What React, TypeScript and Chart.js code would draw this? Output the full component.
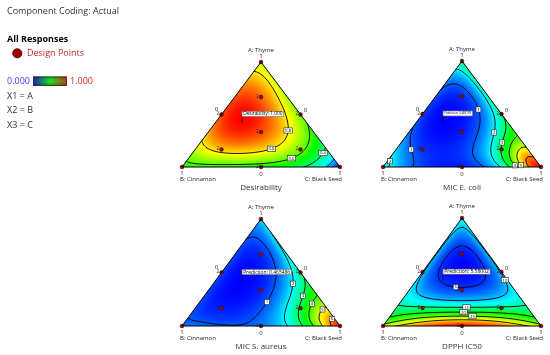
import React, { useEffect, useRef } from "react";
import { Chart, registerables } from "chart.js";
Chart.register(...registerables);

type Bary = [number, number, number];
type LabelAnchor = [number, number, number, number]; // level, a, b, c

// ---------------- data ----------------
// Simplex lattice (A, B, C) at which surface values were read from the picture
const LATTICE: Bary[] = [
  [1, 0, 0],
  [0.75, 0.25, 0], [0.75, 0, 0.25],
  [0.5, 0.5, 0], [0.5, 0.25, 0.25], [0.5, 0, 0.5],
  [0.25, 0.75, 0], [0.25, 0.5, 0.25], [0.25, 0.25, 0.5], [0.25, 0, 0.75],
  [0, 1, 0], [0, 0.75, 0.25], [0, 0.5, 0.5], [0, 0.25, 0.75], [0, 0, 1],
];

const DESIRABILITY_VALUES = [0.72, 0.92, 0.72, 0.96, 0.99, 0.64, 0.8, 0.95, 0.82, 0.48, 0.55, 0.55, 0.53, 0.42, 0.0];
const MIC_ECOLI_VALUES = [2.9, 1.05, 2.6, 0.85, 0.5, 2.9, 1.4, 0.5, 1.3, 4.4, 2.2, 0.75, 0.55, 2.1, 6.8];
const MIC_SAUREUS_VALUES = [1.8, 0.95, 2.15, 0.9, 0.6, 2.8, 0.9, 0.55, 1.5, 4.3, 1.15, 1.05, 1.2, 2.8, 6.8];
const DPPH_IC50_VALUES = [12, 10.8, 10.8, 10.8, 3.3, 10.8, 13.5, 9.5, 9.5, 13.5, 27, 35, 38, 35, 27];

const DESIRABILITY_LEVELS = [0.2, 0.4, 0.6, 0.8];
const MIC_ECOLI_LEVELS = [1, 2, 3, 4, 5, 6];
const MIC_SAUREUS_LEVELS = [1, 2, 3, 4, 5, 6];
const DPPH_IC50_LEVELS = [5, 10, 15, 20, 25, 30];

const DESIRABILITY_LABELS: LabelAnchor[] = [
  [0.8, 0.347, 0.163, 0.49], [0.8, 0.091, 0.37, 0.54], [0.6, 0.044, 0.277, 0.679], [0.4, 0.088, 0.019, 0.893],
];
const MIC_ECOLI_LABELS: LabelAnchor[] = [
  [1, 0.169, 0.716, 0.115], [2, 0.094, 0.869, 0.037], [1, 0.559, 0.079, 0.362], [2, 0.303, 0.071, 0.626],
  [3, 0.188, 0.049, 0.763], [4, 0.115, 0.018, 0.867], [5, 0.062, 0.0, 0.938],
];
const MIC_SAUREUS_LABELS: LabelAnchor[] = [
  [1, 0.25, 0.368, 0.382], [2, 0.4, 0.137, 0.463], [3, 0.283, 0.1, 0.617], [4, 0.196, 0.066, 0.738],
  [5, 0.124, 0.033, 0.843], [6, 0.072, 0.0, 0.928],
];
const DPPH_IC50_LABELS: LabelAnchor[] = [
  [5, 0.427, 0.323, 0.25], [10, 0.396, 0.081, 0.523], [15, 0.179, 0.383, 0.438], [20, 0.111, 0.434, 0.455],
  [25, 0.065, 0.404, 0.531],
];

const DESIGN_POINTS: Bary[] = [
  [1, 0, 0], [0, 1, 0], [0, 0, 1],
  [0.5, 0.5, 0], [0.5, 0, 0.5], [0, 0.5, 0.5],
  [2 / 3, 1 / 6, 1 / 6], [1 / 6, 2 / 3, 1 / 6], [1 / 6, 1 / 6, 2 / 3], [1 / 3, 1 / 3, 1 / 3],
];
const REPLICATE_LABELS = ["", "", "", "2", "2", "2", "2", "2", "2", "2"];

const OPTIMUM: Bary = [0.42, 0.41, 0.17];

const COMPONENT_NAMES = ["A: Thyme", "B: Cinnamon", "C: Black Seed"];
const TITLES = ["Desirability", "MIC E. coli", "MIC S. aureus", "DPPH IC50"];
const FLAG_TEXTS = ["Desirability: 1.000", "Prediction: 0.482159", "Prediction: 0.465486", "Prediction: 5.58002"];
const LEGEND_TEXTS = ["Component Coding: Actual", "All Responses", "Design Points", "0.000", "1.000", "X1 = A", "X2 = B", "X3 = C"];

// ---------------- layout (not data) ----------------
const W = 550, H = 355;
const PANEL_BOXES = [
  { left: 182, right: 340, top: 62, bottom: 167 },
  { left: 383, right: 541, top: 61, bottom: 167 },
  { left: 182, right: 340, top: 219, bottom: 326 },
  { left: 383, right: 541, top: 218, bottom: 326 },
];
const FLAG_WIDTHS = [41.6, 29.4, 49.3, 47];
const FONT = '"Open Sans", "Noto Sans", sans-serif';

const PANELS = [
  { values: DESIRABILITY_VALUES, log: false, levels: DESIRABILITY_LEVELS, labels: DESIRABILITY_LABELS, dec: 1 },
  { values: MIC_ECOLI_VALUES, log: true, levels: MIC_ECOLI_LEVELS, labels: MIC_ECOLI_LABELS, dec: 0 },
  { values: MIC_SAUREUS_VALUES, log: true, levels: MIC_SAUREUS_LEVELS, labels: MIC_SAUREUS_LABELS, dec: 0 },
  { values: DPPH_IC50_VALUES, log: true, levels: DPPH_IC50_LEVELS, labels: DPPH_IC50_LABELS, dec: 0 },
];

// ---------------- model fitting ----------------
function basis(a: number, c: number): number[] {
  const out: number[] = [];
  for (let i = 0; i <= 4; i++) for (let j = 0; j <= 4 - i; j++) out.push(Math.pow(a, i) * Math.pow(c, j));
  return out;
}
function solveLinear(M: number[][], y: number[]): number[] {
  const n = y.length;
  const A = M.map((row, i) => [...row, y[i]]);
  for (let col = 0; col < n; col++) {
    let piv = col;
    for (let r = col + 1; r < n; r++) if (Math.abs(A[r][col]) > Math.abs(A[piv][col])) piv = r;
    const tmp = A[col]; A[col] = A[piv]; A[piv] = tmp;
    for (let r = 0; r < n; r++) {
      if (r === col) continue;
      const f = A[r][col] / A[col][col];
      if (f === 0) continue;
      for (let k = col; k <= n; k++) A[r][k] -= f * A[col][k];
    }
  }
  return A.map((row, i) => row[n] / row[i]);
}
function fitSurface(values: number[], log: boolean) {
  const M = LATTICE.map(([a, , c]) => basis(a, c));
  const y = values.map((v) => (log ? Math.log(v) : v));
  const coef = solveLinear(M, y);
  return (a: number, c: number) => {
    const bs = basis(a, c);
    let s = 0;
    for (let k = 0; k < bs.length; k++) s += coef[k] * bs[k];
    return log ? Math.exp(s) : s;
  };
}

function colormap(t: number): [number, number, number] {
  t = Math.max(0, Math.min(1, t));
  const stops = [[0, 0, 255], [0, 255, 255], [0, 255, 0], [255, 255, 0], [255, 0, 0]];
  const s = t * 4;
  const i = Math.min(3, Math.floor(s));
  const f = s - i;
  const c0 = stops[i], c1 = stops[i + 1];
  return [c0[0] + (c1[0] - c0[0]) * f, c0[1] + (c1[1] - c0[1]) * f, c0[2] + (c1[2] - c0[2]) * f];
}

const toXY = ([a, , c]: Bary) => ({ x: c + a / 2, y: a });

function drawLegend(ctx: CanvasRenderingContext2D) {
  ctx.save();
  ctx.textAlign = "left";
  ctx.textBaseline = "middle";
  ctx.font = `9px ${FONT}`;
  ctx.fillStyle = "#333";
  ctx.fillText(LEGEND_TEXTS[0], 7, 11.5);
  ctx.font = `bold 9px ${FONT}`;
  ctx.fillStyle = "#000";
  ctx.fillText(LEGEND_TEXTS[1], 7, 39.5);
  ctx.beginPath();
  ctx.arc(17.3, 53.3, 4.6, 0, Math.PI * 2);
  ctx.fillStyle = "#a00000";
  ctx.fill();
  ctx.lineWidth = 0.8;
  ctx.strokeStyle = "#4a0000";
  ctx.stroke();
  ctx.font = `9px ${FONT}`;
  ctx.fillStyle = "#c8282d";
  ctx.fillText(LEGEND_TEXTS[2], 27, 53.5);
  ctx.fillStyle = "#3b3bff";
  ctx.fillText(LEGEND_TEXTS[3], 7, 81.5);
  const bx = 33, by = 76.5, bw = 34, bh = 9.5;
  const g = ctx.createLinearGradient(bx, 0, bx + bw, 0);
  g.addColorStop(0, "#0000c0");
  g.addColorStop(0.5, "#00e000");
  g.addColorStop(1, "#c81e00");
  ctx.fillStyle = g;
  ctx.fillRect(bx, by, bw, bh);
  const gv = ctx.createLinearGradient(0, by, 0, by + bh);
  gv.addColorStop(0, "rgba(0,0,0,0.25)");
  gv.addColorStop(0.45, "rgba(255,255,255,0.1)");
  gv.addColorStop(1, "rgba(0,0,0,0.35)");
  ctx.fillStyle = gv;
  ctx.fillRect(bx, by, bw, bh);
  ctx.lineWidth = 0.7;
  ctx.strokeStyle = "#333";
  ctx.strokeRect(bx + 0.5, by + 0.5, bw - 1, bh - 1);
  ctx.fillStyle = "#e02424";
  ctx.fillText(LEGEND_TEXTS[4], 70, 81.5);
  ctx.fillStyle = "#333";
  ctx.fillText(LEGEND_TEXTS[5], 7, 96);
  ctx.fillText(LEGEND_TEXTS[6], 7, 110.7);
  ctx.fillText(LEGEND_TEXTS[7], 7, 125.3);
  ctx.restore();
}

function makePlugin(k: number) {
  const panel = PANELS[k];
  const surface = fitSurface(panel.values, panel.log);
  let segsByLevel: number[][][] = [];
  return {
    id: "ternary" + k,
    beforeDatasetsDraw(chart: any) {
      const { ctx, scales } = chart;
      const xs = scales.x, ys = scales.y;
      const pix = (b: Bary) => { const p = toXY(b); return [xs.getPixelForValue(p.x), ys.getPixelForValue(p.y)]; };
      const A = pix([1, 0, 0]), B = pix([0, 1, 0]), C = pix([0, 0, 1]);
      const L = Math.floor(B[0]) - 2, R = Math.ceil(C[0]) + 2, T = Math.floor(A[1]) - 2, Bt = Math.ceil(B[1]) + 2;
      const gw = R - L + 1, gh = Bt - T + 1;
      const grid = new Float64Array(gw * gh);
      let vmin = Infinity, vmax = -Infinity;
      for (let j = 0; j < gh; j++) {
        for (let i = 0; i < gw; i++) {
          const a = ys.getValueForPixel(T + j);
          const c = xs.getValueForPixel(L + i) - a / 2;
          const b = 1 - a - c;
          const v = surface(a, c);
          grid[j * gw + i] = v;
          if (a >= -1e-6 && b >= -1e-6 && c >= -1e-6) { if (v < vmin) vmin = v; if (v > vmax) vmax = v; }
        }
      }
      const off = document.createElement("canvas");
      off.width = gw - 1; off.height = gh - 1;
      const octx = off.getContext("2d")!;
      const img = octx.createImageData(gw - 1, gh - 1);
      for (let j = 0; j < gh - 1; j++) {
        for (let i = 0; i < gw - 1; i++) {
          const v = (grid[j * gw + i] + grid[j * gw + i + 1] + grid[(j + 1) * gw + i] + grid[(j + 1) * gw + i + 1]) / 4;
          const [r, g, bb] = colormap((v - vmin) / (vmax - vmin));
          const o = (j * (gw - 1) + i) * 4;
          img.data[o] = r; img.data[o + 1] = g; img.data[o + 2] = bb; img.data[o + 3] = 255;
        }
      }
      octx.putImageData(img, 0, 0);
      ctx.save();
      ctx.beginPath();
      ctx.moveTo(A[0], A[1]); ctx.lineTo(B[0], B[1]); ctx.lineTo(C[0], C[1]); ctx.closePath();
      ctx.clip();
      ctx.drawImage(off, L, T);
      // contours (marching squares)
      segsByLevel = [];
      ctx.strokeStyle = "#000";
      ctx.lineWidth = 0.9;
      for (const lv of panel.levels) {
        const segs: number[][] = [];
        for (let j = 0; j < gh - 1; j++) {
          for (let i = 0; i < gw - 1; i++) {
            const x0 = L + i, y0 = T + j;
            const v00 = grid[j * gw + i], v10 = grid[j * gw + i + 1], v11 = grid[(j + 1) * gw + i + 1], v01 = grid[(j + 1) * gw + i];
            const cr: number[][] = [];
            const edge = (va: number, vb: number, xa: number, ya: number, xb: number, yb: number) => {
              if ((va > lv) !== (vb > lv)) { const t = (lv - va) / (vb - va); cr.push([xa + (xb - xa) * t, ya + (yb - ya) * t]); }
            };
            edge(v00, v10, x0, y0, x0 + 1, y0);
            edge(v10, v11, x0 + 1, y0, x0 + 1, y0 + 1);
            edge(v11, v01, x0 + 1, y0 + 1, x0, y0 + 1);
            edge(v01, v00, x0, y0 + 1, x0, y0);
            if (cr.length === 2) segs.push([cr[0][0], cr[0][1], cr[1][0], cr[1][1]]);
            else if (cr.length === 4) { segs.push([cr[0][0], cr[0][1], cr[1][0], cr[1][1]]); segs.push([cr[2][0], cr[2][1], cr[3][0], cr[3][1]]); }
          }
        }
        segsByLevel.push(segs);
        ctx.beginPath();
        for (const s of segs) { ctx.moveTo(s[0], s[1]); ctx.lineTo(s[2], s[3]); }
        ctx.stroke();
      }
      ctx.restore();
    },
    afterDatasetsDraw(chart: any) {
      const { ctx, scales } = chart;
      const xs = scales.x, ys = scales.y;
      const pix = (b: Bary) => { const p = toXY(b); return [xs.getPixelForValue(p.x), ys.getPixelForValue(p.y)]; };
      const A = pix([1, 0, 0]), B = pix([0, 1, 0]), C = pix([0, 0, 1]);
      const inside = (x: number, y: number) => {
        const a = ys.getValueForPixel(y); const c = xs.getValueForPixel(x) - a / 2; const b = 1 - a - c;
        return a > 0.015 && b > 0.015 && c > 0.015;
      };
      ctx.save();
      // contour labels
      panel.labels.forEach(([lv, a, b, c]) => {
        const li = panel.levels.indexOf(lv);
        const segs = segsByLevel[li] || [];
        const [ax, ay] = pix([a, b, c]);
        let best: number[] | null = null, bd = Infinity;
        for (const s of segs) {
          const mx = (s[0] + s[2]) / 2, my = (s[1] + s[3]) / 2;
          if (!inside(mx, my)) continue;
          const d = (mx - ax) ** 2 + (my - ay) ** 2;
          if (d < bd) { bd = d; best = [mx, my]; }
        }
        if (!best || bd > 400) return;
        const txt = lv.toFixed(panel.dec);
        ctx.font = `4.3px ${FONT}`;
        const tw = ctx.measureText(txt).width;
        const bw = tw + 2.4, bh = 5.2;
        ctx.fillStyle = "#fff";
        ctx.fillRect(best[0] - bw / 2, best[1] - bh / 2, bw, bh);
        ctx.lineWidth = 0.6;
        ctx.strokeStyle = "#222";
        ctx.strokeRect(best[0] - bw / 2, best[1] - bh / 2, bw, bh);
        ctx.fillStyle = "#000";
        ctx.textAlign = "center";
        ctx.textBaseline = "middle";
        ctx.fillText(txt, best[0], best[1] + 0.2);
      });
      // replicate labels
      ctx.font = `4.6px ${FONT}`;
      ctx.fillStyle = "#222";
      ctx.textAlign = "right";
      ctx.textBaseline = "middle";
      DESIGN_POINTS.forEach((p, i) => {
        if (!REPLICATE_LABELS[i]) return;
        const [x, y] = pix(p);
        ctx.fillText(REPLICATE_LABELS[i], x - 2.3, y - 0.6);
      });
      // flag
      const [fx, fy] = pix(OPTIMUM);
      const txt = FLAG_TEXTS[k];
      ctx.font = `10px ${FONT}`;
      const m = ctx.measureText(txt).width;
      const fs = (10 * (FLAG_WIDTHS[k] - 2.2)) / m;
      ctx.font = `${fs}px ${FONT}`;
      const bh = 5, bb = fy - 6.5;
      ctx.lineWidth = 0.6;
      ctx.strokeStyle = "#000";
      ctx.beginPath(); ctx.moveTo(fx, fy); ctx.lineTo(fx, bb); ctx.stroke();
      ctx.fillStyle = "#fff";
      ctx.fillRect(fx, bb - bh, FLAG_WIDTHS[k], bh);
      ctx.strokeStyle = "#777";
      ctx.strokeRect(fx, bb - bh, FLAG_WIDTHS[k], bh);
      ctx.fillStyle = "#000";
      ctx.textAlign = "left";
      ctx.fillText(txt, fx + 1.1, bb - bh / 2 + 0.2);
      // axis texts
      const mid = A[0];
      ctx.fillStyle = "#222";
      ctx.font = `6px ${FONT}`;
      ctx.textAlign = "center";
      ctx.fillText(COMPONENT_NAMES[0], mid, A[1] - 11.5);
      ctx.fillText("1", mid, A[1] - 5.5);
      ctx.fillText("1", B[0], B[1] + 6.5);
      ctx.fillText("0", mid, B[1] + 7);
      ctx.fillText("1", C[0], C[1] + 6.5);
      const lm = pix([0.5, 0.5, 0]), rm = pix([0.5, 0, 0.5]);
      ctx.fillText("0", lm[0] - 5, lm[1] - 5);
      ctx.fillText("0", rm[0] + 5, rm[1] - 4);
      ctx.textAlign = "left";
      ctx.fillText(COMPONENT_NAMES[1], B[0] - 2, B[1] + 12.7);
      ctx.textAlign = "right";
      ctx.fillText(COMPONENT_NAMES[2], C[0] + 2, C[1] + 12.7);
      ctx.textAlign = "center";
      ctx.fillStyle = "#333";
      ctx.font = `8px ${FONT}`;
      ctx.fillText(TITLES[k], mid, B[1] + 20.8);
      if (k === 0) drawLegend(ctx);
      ctx.restore();
    },
  };
}

export default function App() {
  const canvases = useRef<(HTMLCanvasElement | null)[]>([]);
  useEffect(() => {
    const charts = PANELS.map((_, k) => {
      const box = PANEL_BOXES[k];
      const canvas = canvases.current[k]!;
      return new Chart(canvas, {
        type: "scatter",
        data: {
          datasets: [
            {
              data: [toXY([1, 0, 0]), toXY([0, 1, 0]), toXY([0, 0, 1]), toXY([1, 0, 0])],
              showLine: true,
              borderColor: "#000",
              borderWidth: 1,
              pointRadius: 0,
              clip: false as any,
            } as any,
            {
              data: DESIGN_POINTS.map(toXY),
              pointRadius: 1.9,
              backgroundColor: "#8a0f0f",
              borderColor: "#3a0000",
              borderWidth: 0.5,
              clip: false as any,
            } as any,
          ],
        },
        options: {
          animation: false,
          responsive: false,
          devicePixelRatio: 1,
          events: [],
          layout: { padding: { left: box.left, right: W - box.right, top: box.top, bottom: H - box.bottom } },
          scales: {
            x: { type: "linear", min: 0, max: 1, display: false },
            y: { type: "linear", min: 0, max: 1, display: false },
          },
          plugins: { legend: { display: false }, tooltip: { enabled: false } },
        },
        plugins: [makePlugin(k) as any],
      });
    });
    return () => charts.forEach((c) => c.destroy());
  }, []);
  return (
    <div style={{ position: "absolute", left: 0, top: 0, width: W, height: H, background: "#fff", overflow: "hidden" }}>
      {PANELS.map((_, k) => (
        <canvas
          key={k}
          ref={(el) => { canvases.current[k] = el; }}
          width={W}
          height={H}
          style={{ position: "absolute", left: 0, top: 0, width: W, height: H }}
        />
      ))}
    </div>
  );
}
